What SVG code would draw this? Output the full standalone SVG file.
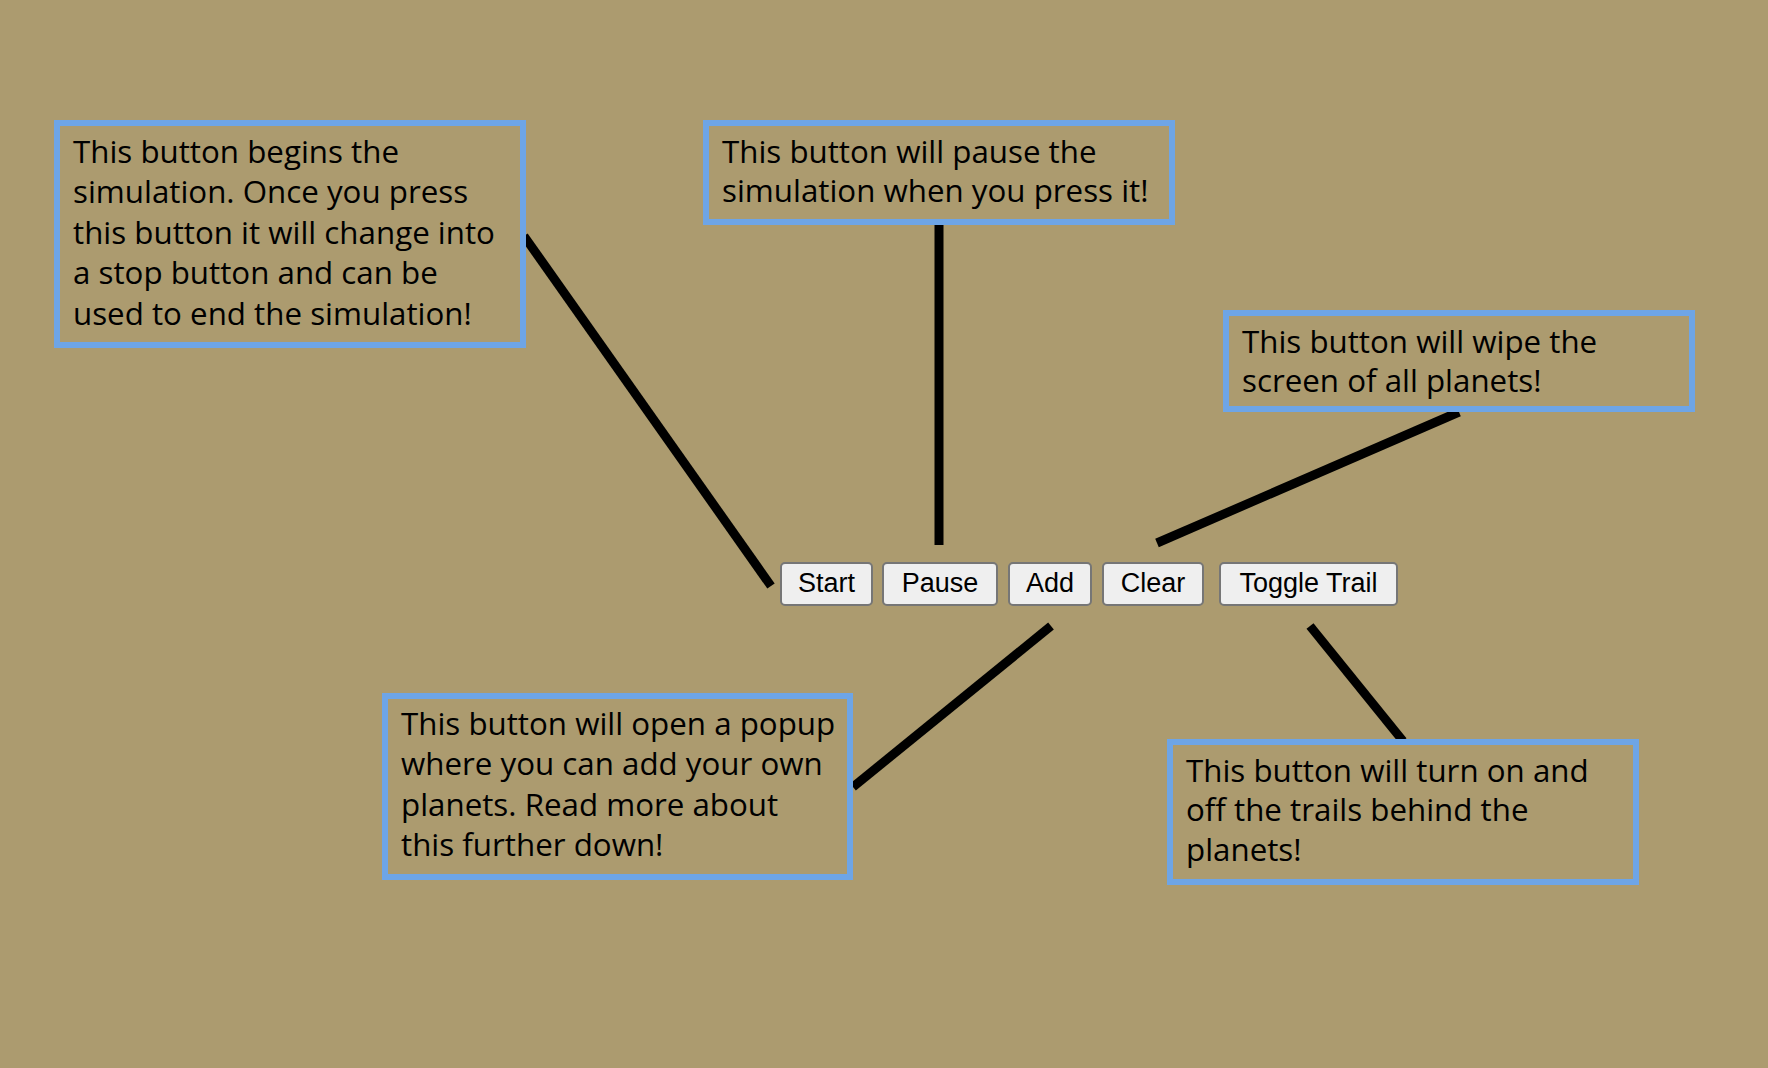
<svg xmlns="http://www.w3.org/2000/svg" width="1768" height="1068" viewBox="0 0 1768 1068">
<style>
.box{fill:none;stroke:#6ea5e6;stroke-width:6}
.t{font-family:"Open Sans","Noto Sans",sans-serif;font-size:31.3px;fill:#000}
.btn{fill:#efefef;stroke:#767676;stroke-width:2}
.bt{font-family:"Liberation Sans",Arial,sans-serif;font-size:27px;fill:#000;text-anchor:middle}
.c{stroke:#000;stroke-width:9;stroke-linecap:butt;fill:none}
</style>
<rect width="1768" height="1068" fill="#ac9b6f"/>
<g id="connectors">
<line class="c" x1="524" y1="236" x2="771" y2="586"/>
<line class="c" x1="939" y1="224" x2="939" y2="545"/>
<line class="c" x1="1459" y1="412" x2="1157" y2="543"/>
<line class="c" x1="1051" y1="626" x2="853" y2="787"/>
<line class="c" x1="1310" y1="626" x2="1403" y2="741"/>
</g>
<g id="note-start">
<rect class="box" x="57" y="123" width="466" height="222"/>
<text class="t"><tspan x="73" y="163">This button begins the</tspan><tspan x="73" y="203">simulation. Once you press</tspan><tspan x="73" y="244">this button it will change into</tspan><tspan x="73" y="284">a stop button and can be</tspan><tspan x="73" y="325">used to end the simulation!</tspan></text>
</g>
<g id="note-pause">
<rect class="box" x="706" y="123" width="466" height="99"/>
<text class="t"><tspan x="722" y="163">This button will pause the</tspan><tspan x="722" y="202">simulation when you press it!</tspan></text>
</g>
<g id="note-clear">
<rect class="box" x="1226" y="313" width="466" height="96"/>
<text class="t"><tspan x="1242" y="353">This button will wipe the</tspan><tspan x="1242" y="392">screen of all planets!</tspan></text>
</g>
<g id="note-add">
<rect class="box" x="385" y="696" width="465" height="181"/>
<text class="t"><tspan x="401" y="735">This button will open a popup</tspan><tspan x="401" y="775">where you can add your own</tspan><tspan x="401" y="816">planets. Read more about</tspan><tspan x="401" y="856">this further down!</tspan></text>
</g>
<g id="note-toggle">
<rect class="box" x="1170" y="742" width="466" height="140"/>
<text class="t"><tspan x="1186" y="782">This button will turn on and</tspan><tspan x="1186" y="821">off the trails behind the</tspan><tspan x="1186" y="861">planets!</tspan></text>
</g>
<g id="btn-start"><rect class="btn" x="781" y="563" width="91" height="42" rx="4"/><text class="bt" x="826.5" y="592">Start</text></g>
<g id="btn-pause"><rect class="btn" x="883" y="563" width="114" height="42" rx="4"/><text class="bt" x="940" y="592">Pause</text></g>
<g id="btn-add"><rect class="btn" x="1009" y="563" width="82" height="42" rx="4"/><text class="bt" x="1050" y="592">Add</text></g>
<g id="btn-clear"><rect class="btn" x="1103" y="563" width="100" height="42" rx="4"/><text class="bt" x="1153" y="592">Clear</text></g>
<g id="btn-toggle"><rect class="btn" x="1220" y="563" width="177" height="42" rx="4"/><text class="bt" x="1308.5" y="592">Toggle Trail</text></g>
</svg>
